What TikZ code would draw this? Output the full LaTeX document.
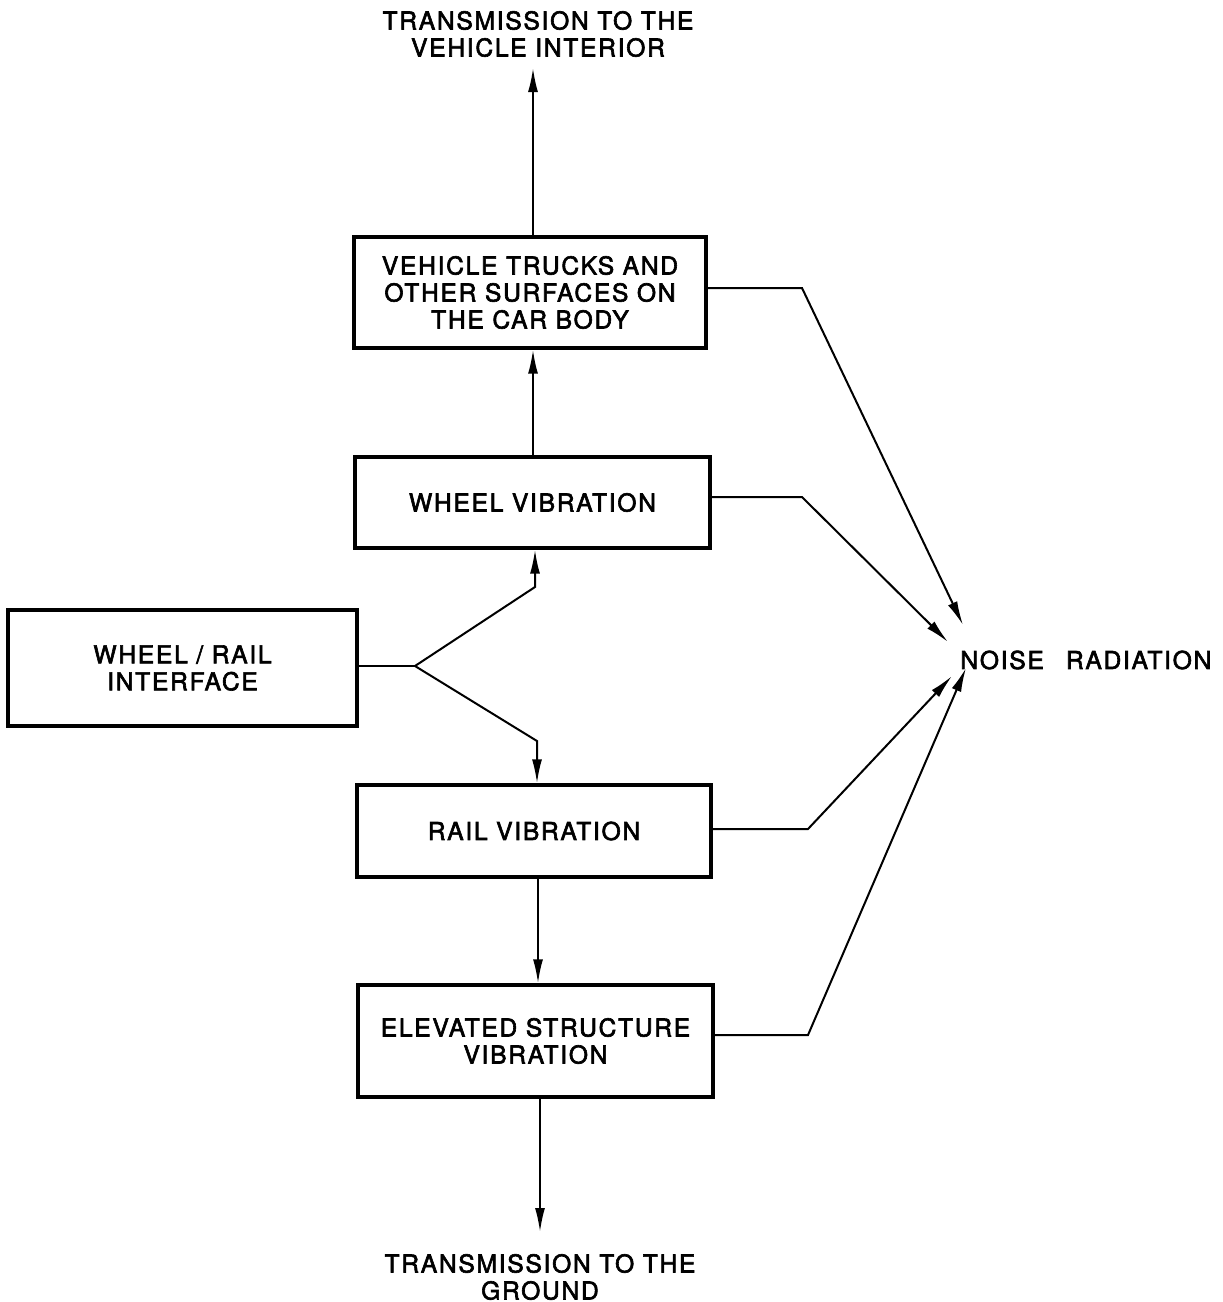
\documentclass[tikz,border=0pt]{standalone}
\usepackage{fontspec}
\setmainfont{TeX Gyre Heros}[LetterSpace=7, FakeBold=2.5]
\usetikzlibrary{arrows.meta}
\begin{document}
\begin{tikzpicture}[x=0.5pt,y=-0.5pt,
  block/.style={draw, line width=1.7pt, rectangle, align=center, inner sep=0pt,
    font=\fontsize{12.3}{13.5}\selectfont},
  caption/.style={align=center, inner sep=0pt, font=\fontsize{12.3}{13.5}\selectfont},
  link/.style={line width=1pt},
  arr/.style={link, -{Latex[length=12pt,width=5pt]}}]
\useasboundingbox (0,0) rectangle (1222,1302);

% blocks
\node[block, minimum width=176pt, minimum height=55.5pt] (trucks) at (530,292.5)
  {VEHICLE TRUCKS AND\\OTHER SURFACES ON\\THE CAR BODY};
\node[block, minimum width=177.5pt, minimum height=45.5pt] (wheel) at (532.5,502.5)
  {WHEEL VIBRATION};
\node[block, minimum width=174.5pt, minimum height=58pt] (wr) at (182.5,668)
  {WHEEL / RAIL\\INTERFACE};
\node[block, minimum width=177pt, minimum height=46pt] (rail) at (534,831)
  {RAIL VIBRATION};
\node[block, minimum width=177.5pt, minimum height=56pt] (elev) at (535.5,1041)
  {ELEVATED STRUCTURE\\VIBRATION};

% free labels
\node[caption] (interior) at (538,34) {TRANSMISSION TO THE\\VEHICLE INTERIOR};
\node[caption] (ground) at (540,1277) {TRANSMISSION TO THE\\GROUND};
\node[caption, anchor=west] (noise) at (960,660) {NOISE\hspace{0.9em}RADIATION};

% routing points
\coordinate (topend) at (533,68);
\coordinate (botend) at (540,1232);
\coordinate (fork) at (415,666);
\coordinate (up) at (535,587);
\coordinate (dn) at (537,741);
\coordinate (k1) at (802,288);
\coordinate (k2) at (802,497);
\coordinate (k3) at (808,829);
\coordinate (k4) at (808,1035);
\coordinate (t1) at (963,625);
\coordinate (t2) at (948,642);
\coordinate (t3) at (952,676);
\coordinate (t4) at (966,668);

% vertical chain
\draw[arr] (trucks.north -| topend) -- (topend);
\draw[arr] (wheel.north -| 533,0) -- (trucks.south -| 533,0);
\draw[arr] (rail.south -| 538,0) -- (elev.north -| 538,0);
\draw[arr] (elev.south -| botend) -- (botend);

% split from the wheel/rail interface
\draw[link] (wr.east |- fork) -- (fork);
\draw[arr] (fork) -- (up) -- (up |- wheel.south);
\draw[arr] (fork) -- (dn) -- (dn |- rail.north);

% paths to noise radiation
\draw[arr] (trucks.east |- k1) -- (k1) -- (t1);
\draw[arr] (wheel.east |- k2) -- (k2) -- (t2);
\draw[arr] (rail.east |- k3) -- (k3) -- (t3);
\draw[arr] (elev.east |- k4) -- (k4) -- (t4);
\end{tikzpicture}
\end{document}
